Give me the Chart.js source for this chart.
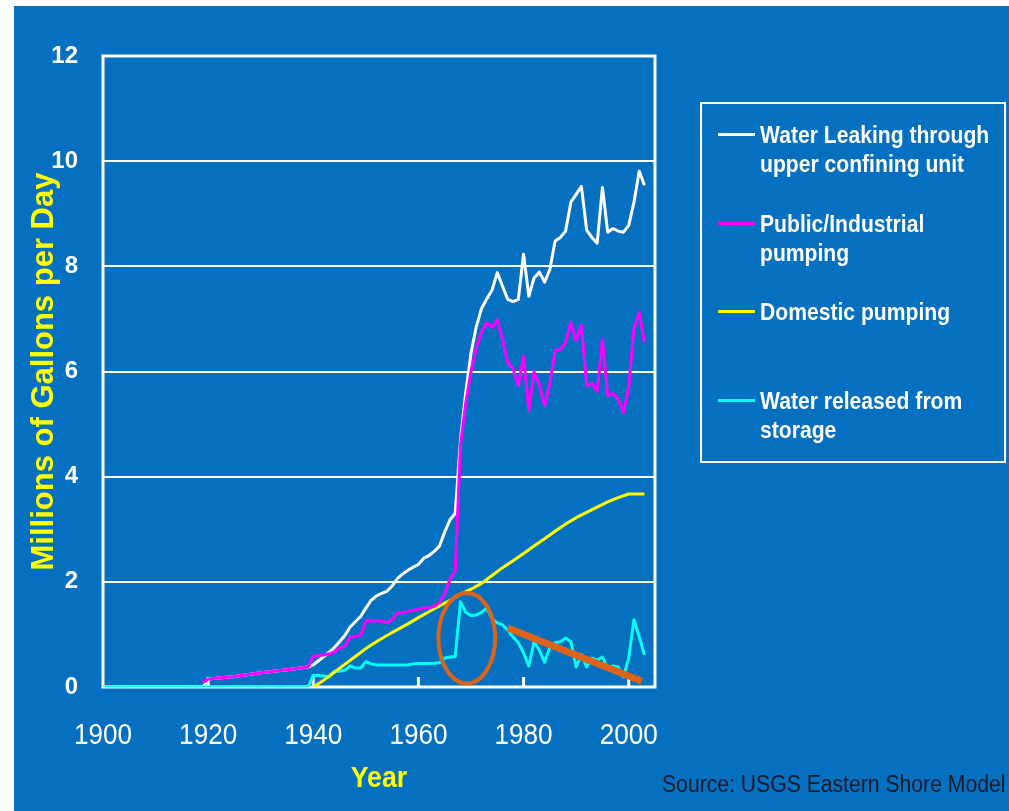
<!DOCTYPE html>
<html lang="en">
<head>
    <meta charset="UTF-8">
    <title>Eastern Shore Water Budget</title>
    <script src="https://cdn.jsdelivr.net/npm/chart.js"></script>
    <style>
        html, body { margin: 0; padding: 0; background: #fff; }
        #page { position: relative; width: 1009px; height: 811px; overflow: hidden; }
        #bg { position: absolute; left: 14px; top: 6px; right: 0; bottom: 0; background: #0570c0; }
        #waterChart { position: absolute; left: 0; top: 0; }
        #legend {
            position: absolute; left: 700px; top: 102px; width: 302px; height: 357px;
            border: 2px solid #fff;
            font-family: 'Liberation Sans', Arial, sans-serif;
            font-weight: bold; font-size: 24px; line-height: 29px; color: #fff;
        }
        .item { position: absolute; left: 58px; }
        .item .txt { white-space: nowrap; transform: scaleX(0.88); transform-origin: left center; }
        .swatch { position: absolute; left: -42px; top: 13px; width: 37px; height: 3px; }
        #source {
            position: absolute; left: 662px; top: 771px;
            font-family: 'Liberation Sans', Arial, sans-serif;
            font-size: 23px; color: #1b1b2b; white-space: nowrap;
            transform: scaleX(0.92); transform-origin: left center;
        }
    </style>
</head>
<body>
<div id="page">
    <div id="bg"></div>
    <canvas id="waterChart" width="1009" height="811"></canvas>
    <div id="legend"></div>
    <div id="source">Source: USGS Eastern Shore Model</div>
</div>

<script>
    // values (millions of gallons per day)
    const leakYears = [1900, 1919, 1920, 1925, 1930, 1935, 1939, 1940, 1941, 1942, 1943, 1944, 1945, 1946, 1947, 1948, 1949,
        1950, 1951, 1952, 1953, 1954, 1955, 1956, 1957, 1958, 1959, 1960, 1961, 1962, 1963, 1964, 1965, 1966, 1967, 1968, 1969,
        1970, 1971, 1972, 1973, 1974, 1975, 1976, 1977, 1978, 1979, 1980, 1981, 1982, 1983, 1984, 1985, 1986, 1987, 1988, 1989,
        1990, 1991, 1992, 1993, 1994, 1995, 1996, 1997, 1998, 1999, 2000, 2001, 2002, 2003];
    const leakValues = [0, 0, 0.15, 0.2, 0.27, 0.33, 0.38, 0.42, 0.5, 0.58, 0.66, 0.75, 0.86, 0.98, 1.14, 1.24, 1.34,
        1.5, 1.65, 1.73, 1.78, 1.82, 1.92, 2.06, 2.15, 2.22, 2.28, 2.33, 2.45, 2.5, 2.58, 2.68, 2.95, 3.18, 3.3, 4.7, 5.6,
        6.35, 6.85, 7.2, 7.38, 7.55, 7.88, 7.62, 7.37, 7.33, 7.37, 8.23, 7.43, 7.78, 7.89, 7.7, 7.94, 8.48, 8.55, 8.67, 9.22,
        9.37, 9.52, 8.69, 8.55, 8.44, 9.5, 8.65, 8.72, 8.67, 8.65, 8.78, 9.22, 9.81, 9.54];

    const publicYears = [1919, 1920, 1925, 1930, 1935, 1939, 1940, 1941, 1942, 1943, 1944, 1945, 1946, 1947, 1948, 1949,
        1950, 1951, 1952, 1953, 1954, 1955, 1956, 1957, 1958, 1959, 1960, 1961, 1962, 1963, 1964, 1965, 1966, 1967, 1968, 1969,
        1970, 1971, 1972, 1973, 1974, 1975, 1976, 1977, 1978, 1979, 1980, 1981, 1982, 1983, 1984, 1985, 1986, 1987, 1988, 1989,
        1990, 1991, 1992, 1993, 1994, 1995, 1996, 1997, 1998, 1999, 2000, 2001, 2002, 2003];
    const publicValues = [0.08, 0.15, 0.2, 0.27, 0.33, 0.38, 0.58, 0.6, 0.61, 0.63, 0.66, 0.75, 0.77, 0.95, 0.96, 0.98,
        1.25, 1.26, 1.26, 1.25, 1.22, 1.28, 1.41, 1.41, 1.43, 1.46, 1.48, 1.5, 1.51, 1.53, 1.6, 1.78, 2.05, 2.2, 4.6, 5.4,
        6.0, 6.45, 6.75, 6.93, 6.84, 6.98, 6.61, 6.17, 6.05, 5.73, 6.29, 5.26, 6.0, 5.75, 5.35, 5.77, 6.4, 6.42, 6.55, 6.93,
        6.59, 6.88, 5.73, 5.77, 5.62, 6.61, 5.54, 5.58, 5.47, 5.22, 5.7, 6.82, 7.12, 6.55];

    const domesticYears = [1940, 1942, 1944, 1946, 1948, 1950, 1952, 1954, 1956, 1958, 1960, 1962, 1964, 1966, 1968,
        1970, 1972, 1974, 1976, 1978, 1980, 1982, 1984, 1986, 1988, 1990, 1992, 1994, 1996, 1998, 2000, 2003];
    const domesticValues = [0, 0.13, 0.28, 0.43, 0.58, 0.73, 0.86, 0.98, 1.09, 1.2, 1.32, 1.43, 1.54, 1.65, 1.76,
        1.86, 1.97, 2.12, 2.27, 2.4, 2.54, 2.68, 2.82, 2.96, 3.1, 3.22, 3.32, 3.42, 3.52, 3.6, 3.67, 3.67];

    const storageYears = [1900, 1939, 1940, 1941, 1942, 1943, 1944, 1945, 1946, 1947, 1948, 1949, 1950, 1951, 1952, 1958,
        1959, 1963, 1964, 1965, 1966, 1967, 1968, 1969, 1970, 1971, 1972, 1973, 1974, 1975, 1976, 1977, 1978, 1979,
        1980, 1981, 1982, 1983, 1984, 1985, 1986, 1987, 1988, 1989, 1990, 1991, 1992, 1993, 1994, 1995, 1996, 1997,
        1998, 1999, 2000, 2001, 2002, 2003];
    const storageValues = [0, 0, 0.22, 0.22, 0.21, 0.19, 0.3, 0.3, 0.32, 0.4, 0.36, 0.36, 0.48, 0.44, 0.42, 0.42,
        0.44, 0.45, 0.46, 0.55, 0.57, 0.58, 1.62, 1.42, 1.36, 1.37, 1.42, 1.5, 1.3, 1.22, 1.18, 1.08, 0.95, 0.84,
        0.65, 0.4, 0.86, 0.7, 0.47, 0.75, 0.84, 0.86, 0.93, 0.86, 0.38, 0.62, 0.38, 0.55, 0.51, 0.57, 0.36, 0.4,
        0.38, 0.19, 0.55, 1.28, 0.95, 0.61];

    // hand-drawn annotations on the slide
    const trendYears = [1977, 2002.5];
    const trendValues = [1.12, 0.11];
    const circleCenter = [1969.2, 0.93];
    const circleRadius = [5.4, 0.86];

    const xTitle = 'Year';
    const legendLabels = [
        ['Water Leaking through', 'upper confining unit'],
        ['Public/Industrial', 'pumping'],
        ['Domestic pumping'],
        ['Water released from', 'storage']
    ];
    const legendColors = ['#ffffff', '#ff00ff', '#ffff00', '#00ffff'];
    const legendTops = [16, 105, 193, 282];

    const sans = "'Liberation Sans', Arial, sans-serif";
    const orange = '#dc6418';

    function pts(xs, ys) {
        return xs.map((x, i) => ({ x: x, y: ys[i] }));
    }

    // the slide used a condensed face for the year axis, so squeeze those labels
    function narrowText(ctx, text, x, y, font, color, squeeze) {
        ctx.save();
        ctx.font = font;
        ctx.fillStyle = color;
        ctx.textAlign = 'center';
        ctx.textBaseline = 'middle';
        ctx.translate(x, y);
        ctx.scale(squeeze, 1);
        ctx.fillText(text, 0, 0);
        ctx.restore();
    }

    // frame, inner tick marks, year labels and the circled area
    const slideExtras = {
        id: 'slideExtras',
        beforeDatasetsDraw(chart) {
            const { ctx, chartArea: a, scales: { x } } = chart;
            ctx.save();
            ctx.strokeStyle = '#fff';
            ctx.lineWidth = 3;
            ctx.strokeRect(a.left, a.top, a.width, a.height);
            x.ticks.forEach(t => {
                if (t.value <= x.min) return;
                const px = x.getPixelForValue(t.value);
                ctx.beginPath();
                ctx.moveTo(px, a.bottom);
                ctx.lineTo(px, a.bottom - 10);
                ctx.stroke();
            });
            ctx.restore();
        },
        afterDatasetsDraw(chart) {
            const { ctx, chartArea: a, scales: { x, y } } = chart;
            const cx = x.getPixelForValue(circleCenter[0]);
            const cy = y.getPixelForValue(circleCenter[1]);
            const rx = x.getPixelForValue(circleCenter[0] + circleRadius[0]) - cx;
            const ry = cy - y.getPixelForValue(circleCenter[1] + circleRadius[1]);
            ctx.save();
            ctx.strokeStyle = orange;
            ctx.lineWidth = 4;
            ctx.beginPath();
            ctx.ellipse(cx, cy, rx, ry, 0, 0, Math.PI * 2);
            ctx.stroke();
            ctx.restore();

            x.ticks.forEach(t => {
                narrowText(ctx, String(t.value), x.getPixelForValue(t.value), x.top + 49, '29px ' + sans, '#fff', 0.9);
            });
            narrowText(ctx, xTitle, (a.left + a.right) / 2, x.top + 92, 'bold 30px ' + sans, '#ffff00', 0.89);
        }
    };

    const ctx = document.getElementById('waterChart').getContext('2d');
    new Chart(ctx, {
        type: 'line',
        data: {
            datasets: [
                { label: 'trend', data: pts(trendYears, trendValues), borderColor: orange, borderWidth: 7, borderCapStyle: 'butt' },
                { label: 'Public/Industrial pumping', data: pts(publicYears, publicValues), borderColor: '#ff00ff' },
                { label: 'Domestic pumping', data: pts(domesticYears, domesticValues), borderColor: '#ffff00' },
                { label: 'Water released from storage', data: pts(storageYears, storageValues), borderColor: '#00ffff' },
                { label: 'Water Leaking through upper confining unit', data: pts(leakYears, leakValues), borderColor: '#ffffff' }
            ]
        },
        options: {
            responsive: false,
            animation: false,
            devicePixelRatio: 1,
            layout: { padding: { left: 0, top: 56, right: 354, bottom: 0 } },
            elements: {
                line: { borderWidth: 3, tension: 0, fill: false, borderJoinStyle: 'round' },
                point: { radius: 0, hoverRadius: 0 }
            },
            plugins: { legend: { display: false }, tooltip: { enabled: false } },
            scales: {
                x: {
                    type: 'linear',
                    min: 1900,
                    max: 2005,
                    grid: { display: false, drawTicks: false },
                    border: { display: false },
                    ticks: { stepSize: 20, includeBounds: false, display: false },
                    afterFit(s) { s.height = 124; s.paddingLeft = 0; s.paddingRight = 0; }
                },
                y: {
                    min: 0,
                    max: 12,
                    grid: { color: '#fff', lineWidth: 2, drawTicks: false },
                    border: { display: false },
                    ticks: {
                        stepSize: 2,
                        color: '#fff',
                        padding: 25,
                        font: { family: sans, size: 24, weight: 'bold' }
                    },
                    title: {
                        display: true,
                        text: 'Millions of Gallons per Day',
                        color: '#ffff00',
                        font: { family: sans, size: 31, weight: 'bold', lineHeight: 1.2 },
                        padding: { top: 26, bottom: 0 }
                    },
                    afterFit(s) { s.width = 103; s.paddingTop = 0; s.paddingBottom = 0; }
                }
            }
        },
        plugins: [slideExtras]
    });

    // slide legend with its own line breaks
    const legend = document.getElementById('legend');
    legendLabels.forEach((lines, i) => {
        const item = document.createElement('div');
        item.className = 'item';
        item.style.top = legendTops[i] + 'px';
        const sw = document.createElement('div');
        sw.className = 'swatch';
        sw.style.background = legendColors[i];
        item.appendChild(sw);
        lines.forEach(t => {
            const d = document.createElement('div');
            d.className = 'txt';
            d.textContent = t;
            item.appendChild(d);
        });
        legend.appendChild(item);
    });
</script>
</body>
</html>
